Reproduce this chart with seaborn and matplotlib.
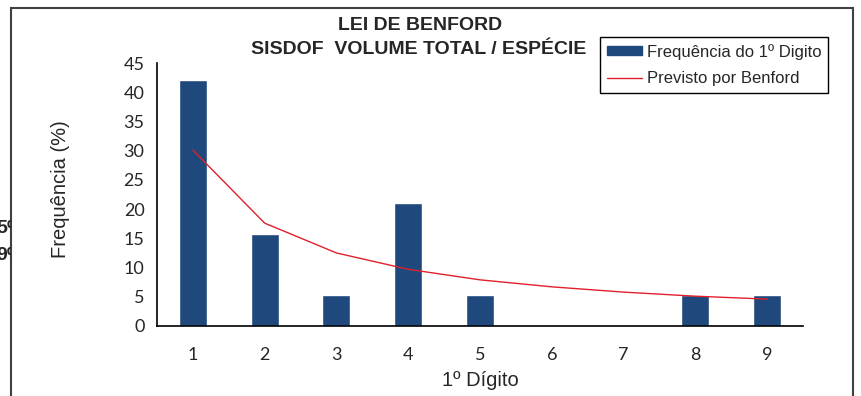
import pandas as pd
import numpy as np
import seaborn as sns
import matplotlib.pyplot as plt
from matplotlib.patches import Rectangle, Patch
from matplotlib.lines import Line2D
from matplotlib.transforms import Bbox

# DATA
digits = ['1', '2', '3', '4', '5', '6', '7', '8', '9']
freq = [42.1, 15.8, 5.3, 21.05, 5.3, 0, 0, 5.3, 5.3]
benford = [30.1, 17.6, 12.5, 9.7, 7.9, 6.7, 5.8, 5.1, 4.6]
side_labels = ['5%', '9%']

df = pd.DataFrame({'digito': digits, 'freq': freq, 'benford': benford})
df['pos'] = df.index

sns.set_style('white')
plt.rcParams['font.family'] = ['Liberation Sans', 'DejaVu Sans']

W, H = 862, 396
fig = plt.figure(figsize=(W / 100, H / 100), dpi=100)
ax = fig.add_axes([157 / W, 1 - 326 / H, (803 - 157) / W, (326 - 63) / H])

bar_col = '#1F497D'
line_col = '#E0202A'

sns.barplot(data=df, x='digito', y='freq', order=digits, color=bar_col,
            width=0.39, saturation=1, ax=ax)
sns.lineplot(data=df, x='pos', y='benford', color=line_col, lw=1.0, ax=ax)

ax.set_xlim(-0.5, 8.5)
ax.set_ylim(0, 45)
ax.set_yticks(np.arange(0, 46, 5))
ax.set_xticks(np.arange(-0.5, 9, 1))
ax.set_xticklabels([])
ax.set_xticks(df['pos'], minor=True)
ax.set_xticklabels(digits, minor=True)
ax.tick_params(axis='x', which='major', direction='out', length=6, width=1.2, color='black')
ax.tick_params(axis='x', which='minor', length=0, pad=15)
ax.tick_params(axis='y', direction='out', length=5, width=1.2, color='black', pad=4)
for lab in ax.get_yticklabels() + ax.get_xticklabels(minor=True):
    lab.set_fontfamily(['Lato', 'DejaVu Sans'])
    lab.set_fontsize(13)
for s in ['top', 'right']:
    ax.spines[s].set_visible(False)
for s in ['left', 'bottom']:
    ax.spines[s].set_color('black')
    ax.spines[s].set_linewidth(1.2)

ax.set_xlabel('1º Dígito', fontsize=14.5, labelpad=6)
ax.set_ylabel('Frequência (%)', fontsize=14.5)
ax.yaxis.set_label_coords((70 - 157) / (803 - 157), 0.52)

fig.text(420 / W, 1 - 26 / H, 'LEI DE BENFORD', ha='center', va='center',
         fontsize=14, fontweight='bold')
fig.text(419 / W, 1 - 49 / H, 'SISDOF  VOLUME TOTAL / ESPÉCIE', ha='center', va='center',
         fontsize=14, fontweight='bold')

handles = [Patch(color=bar_col), Line2D([0], [0], color=line_col, lw=1.0)]
leg = fig.legend(handles, ['Frequência do 1º Digito', 'Previsto por Benford'],
                 loc='upper left', bbox_to_anchor=(600 / W, 1 - 37 / H),
                 fontsize=12, frameon=True, fancybox=False, framealpha=1,
                 edgecolor='black', handlelength=2.1, handleheight=0.4,
                 borderpad=0.4, labelspacing=0.7, handletextpad=0.3,
                 borderaxespad=0)
leg.get_frame().set_linewidth(1.0)

# cut-off labels at the left edge, clipped by the frame
clip = Bbox([[0, 0], [11, H]])
for lab, yy in zip(side_labels, [228, 255]):
    t = fig.text(-4 / W, 1 - yy / H, lab, ha='left', va='center',
                 fontsize=14, fontweight='bold')
    t.set_clip_box(clip)
    t.set_clip_on(True)

fig.patches.append(Rectangle((11 / W, -0.05), (853 - 11) / W, 1 - 8 / H + 0.05,
                             transform=fig.transFigure, fill=False,
                             edgecolor='#404040', lw=1.5))

fig.savefig('out.png', dpi=100)
